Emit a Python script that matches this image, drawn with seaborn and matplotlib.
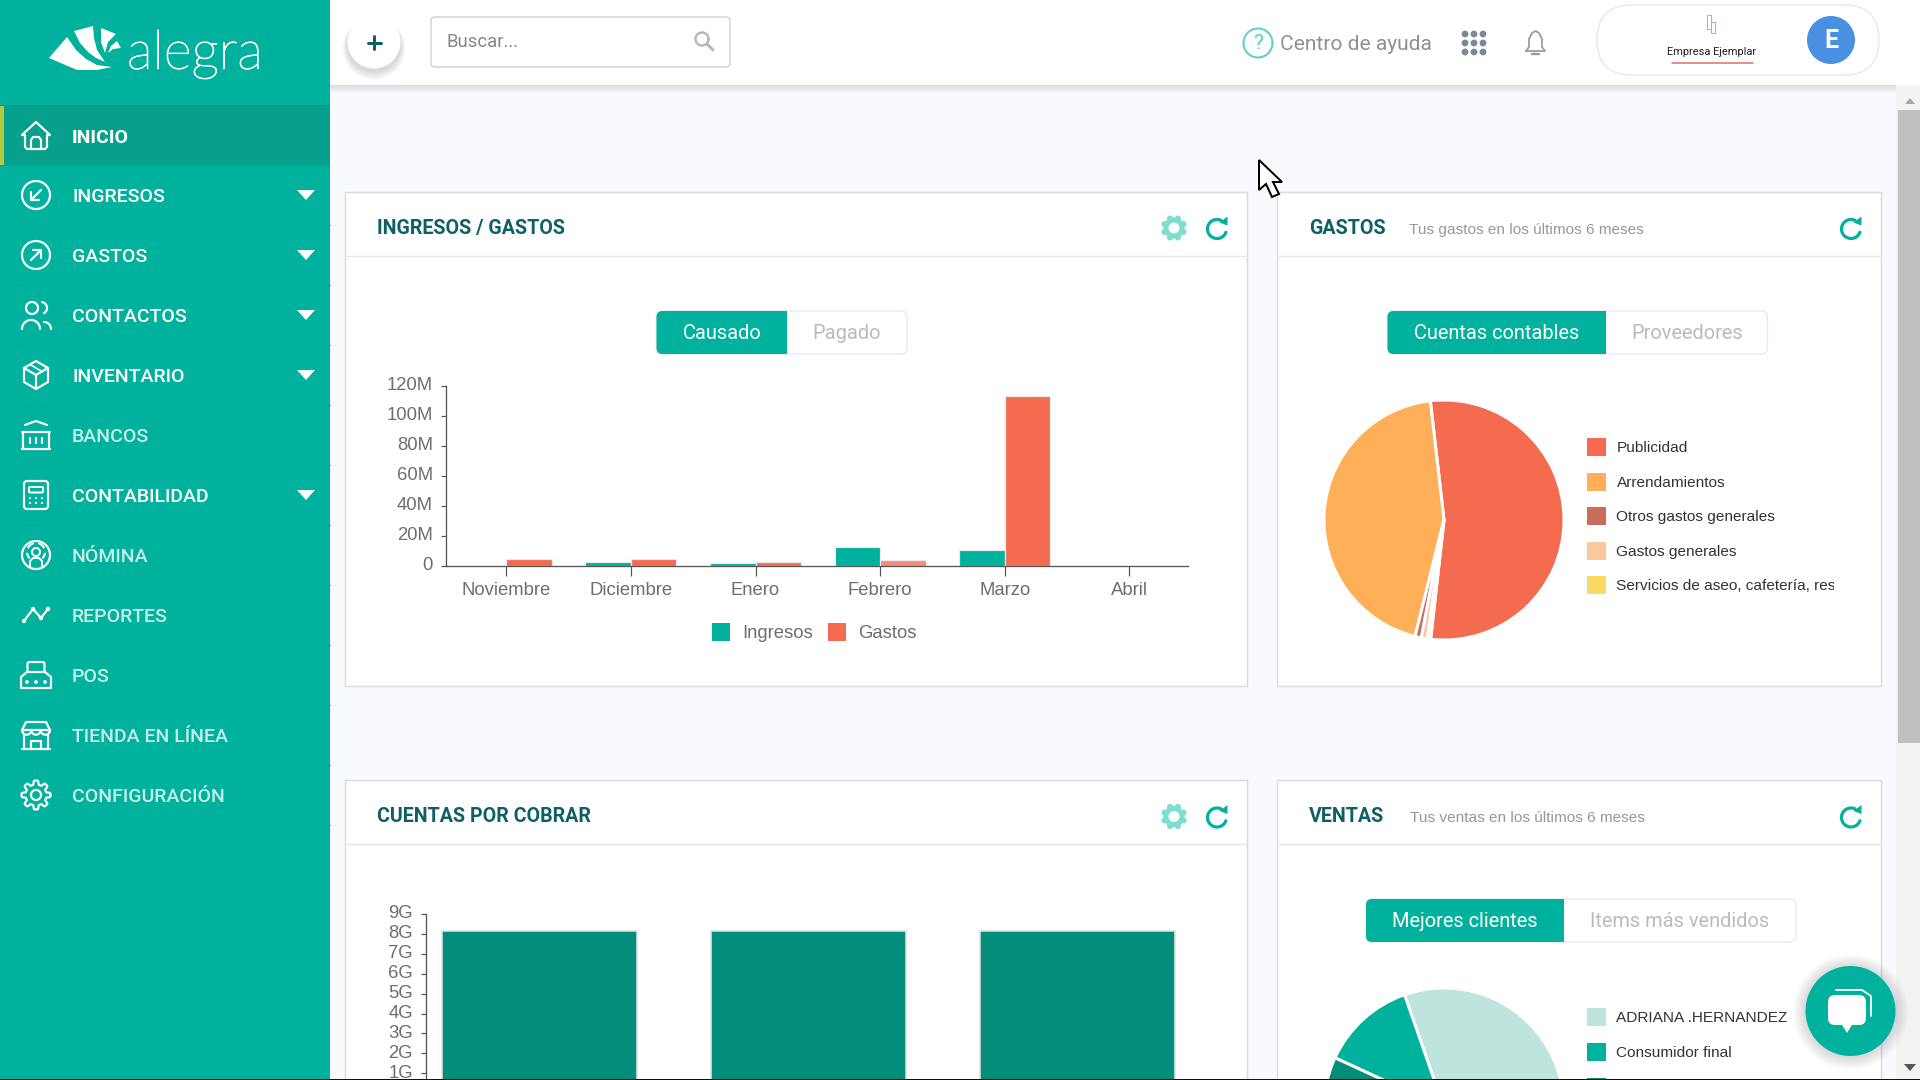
import numpy as np
import pandas as pd
import seaborn as sns
import matplotlib
matplotlib.use("Agg")
import matplotlib.pyplot as plt
import matplotlib.patheffects as pe
from matplotlib.patches import Circle, Rectangle, Polygon, FancyBboxPatch, Ellipse
from matplotlib.transforms import ScaledTranslation

# chart values
months = ["Noviembre", "Diciembre", "Enero", "Febrero", "Marzo", "Abril"]
ingresos = [0, 2.5, 1.5, 12.5, 10.5, 0]
gastos = [4.5, 4.5, 2.5, 3.8, 113.4, 0]
bar_ticks = [0, 20, 40, 60, 80, 100, 120]
bar_tick_labels = ["0", "20M", "40M", "60M", "80M", "100M", "120M"]

cobrar_groups = ["Grupo 1", "Grupo 2", "Grupo 3"]
cobrar_values = [8.15, 8.15, 8.15]
cobrar_ticks = [1, 2, 3, 4, 5, 6, 7, 8, 9]
cobrar_tick_labels = ["1G", "2G", "3G", "4G", "5G", "6G", "7G", "8G", "9G"]

gastos_names = ["Publicidad", "Arrendamientos", "Otros gastos generales", "Gastos generales",
                "Servicios de aseo, cafetería, restaurante"]
gastos_share = [53.6, 44.3, 0.85, 0.8, 0.45]
gastos_colors = ["#F46B50", "#FFAF58", "#C96C5C", "#FBC79C", "#FADA63"]

ventas_names = ["ADRIANA .HERNANDEZ", "Consumidor final"]
ventas_share = [50.0, 12.8, 37.2]
ventas_colors = ["#BDE4DD", "#00B19D", "#028E7A"]

menu_items = ["INICIO", "INGRESOS", "GASTOS", "CONTACTOS", "INVENTARIO", "BANCOS", "CONTABILIDAD",
              "NÓMINA", "REPORTES", "POS", "TIENDA EN LÍNEA", "CONFIGURACIÓN"]
menu_arrow = ["INGRESOS", "GASTOS", "CONTACTOS", "INVENTARIO", "CONTABILIDAD"]
menu_pale = ["BANCOS", "NÓMINA", "REPORTES", "POS", "TIENDA EN LÍNEA", "CONFIGURACIÓN"]

TEAL = "#00B19D"
DARK = "#028E7A"
RED = "#F46B50"
TITLE = "#0F5F66"
GREY = "#6E6E6E"

sns.set_theme(style="white")
plt.rcParams["font.family"] = ["Roboto", "DejaVu Sans"]
plt.rcParams["patch.force_edgecolor"] = False

fig = plt.figure(figsize=(19.2, 10.8), dpi=100, facecolor="#F8FAFD")


def px_axes(left, top, right, bottom, z=1):
    ax = fig.add_axes([left / 1920, 1 - bottom / 1080, (right - left) / 1920, (bottom - top) / 1080], zorder=z)
    return ax


ui = px_axes(0, 0, 1920, 1080, z=0)
top = px_axes(0, 0, 1920, 1080, z=5)
for a in (ui, top):
    a.set_xlim(0, 1920)
    a.set_ylim(1080, 0)
    a.axis("off")
    a.patch.set_alpha(0)


def pt(p):
    return p * 0.72


def txt(ax, x, y, s, size, color="#333333", ha="left", weight="normal", family="Roboto", **kw):
    return ax.text(x, y + 1.3, s, fontsize=pt(size), color=color, ha=ha, va="center", fontweight=weight,
                   family=family, **kw)


def rect(ax, x0, y0, x1, y1, color, **kw):
    ax.add_patch(Rectangle((x0, y0), x1 - x0, y1 - y0, facecolor=color, edgecolor="none", **kw))


def rbox(ax, x0, y0, x1, y1, r, fc, ec="none", lw=1.0, z=2):
    ax.add_patch(FancyBboxPatch((x0 + r, y0 + r), x1 - x0 - 2 * r, y1 - y0 - 2 * r,
                                boxstyle="round,pad=%f,rounding_size=%f" % (r, r),
                                facecolor=fc, edgecolor=ec, linewidth=pt(lw), zorder=z))


def line(ax, pts, color="white", lw=2.2, z=3):
    p = np.array(pts, dtype=float)
    ax.plot(p[:, 0], p[:, 1], color=color, lw=pt(lw), solid_capstyle="round", solid_joinstyle="round", zorder=z)


def ring(ax, cx, cy, r, a0=0, a1=360, color="white", lw=2.2, z=3):
    t = np.radians(np.linspace(a0, a1, 60))
    line(ax, np.c_[cx + r * np.cos(t), cy - r * np.sin(t)], color, lw, z)


def gear_pts(cx, cy, R):
    t = np.linspace(0, 2 * np.pi, 160)
    r = R * (0.86 + 0.14 * np.tanh(3 * np.cos(8 * t)))
    return np.c_[cx + r * np.cos(t), cy + r * np.sin(t)]


# sidebar
rect(ui, 0, 0, 330, 1080, TEAL, zorder=1)
rect(ui, 0, 105, 330, 166, "#06A08D", zorder=1)
rect(ui, 0, 106, 4, 165, "#B6C93A", zorder=2)
for k in range(11):
    line(ui, [(0, 225 + 60 * k), (330, 225 + 60 * k)], "#09A896", 1, 2)

ui.add_patch(Polygon([(49, 58), (67, 37), (76, 50), (86, 59), (97, 65), (112, 67), (97, 70), (77, 70)],
                     facecolor="white", zorder=3))
ui.add_patch(Polygon([(74, 31), (93, 26), (94, 38), (97, 50), (105, 62), (96, 58), (88, 52), (80, 43)],
                     facecolor="white", zorder=3))
ui.add_patch(Polygon([(101, 28), (116, 34), (108, 42), (105, 53), (101, 42)], facecolor="white", zorder=3))
ui.add_patch(Polygon([(117, 41), (121, 48), (113, 49), (108, 53), (111, 46)], facecolor="white", zorder=3))
logo = txt(ui, 127, 53, "alegra", 54, "white", family="Lato", weight="light", zorder=3)
logo.set_path_effects([pe.withStroke(linewidth=0.7, foreground="white")])

for i, name in enumerate(menu_items):
    cy = 136 + (0 if i == 0 else 59 + 60 * (i - 1))
    color = "#C6EEE7" if name in menu_pale else "white"
    txt(ui, 72, cy + 0.4, name, 19.5, color, weight="bold" if name == "INICIO" else "medium", zorder=3)
    if name in menu_arrow:
        ui.add_patch(Polygon([(297, cy - 5), (315, cy - 5), (306, cy + 5)], facecolor="white", zorder=3))

# sidebar icons
ICX = 36
line(ui, [(22, 135), (36, 122), (50, 135), (47, 135), (47, 147), (45, 149), (27, 149), (25, 147), (25, 135), (22, 135)])
line(ui, [(31, 149), (31, 140), (33, 137), (39, 137), (41, 140), (41, 149)])
ring(ui, ICX, 195, 14)
line(ui, [(41, 190), (32, 199)])
line(ui, [(31, 192), (31, 200), (39, 200)])
ring(ui, ICX, 255, 14)
line(ui, [(31, 260), (40, 251)])
line(ui, [(33, 250), (41, 250), (41, 258)])
ring(ui, 32, 308, 6)
ring(ui, 41, 308, 6, -60, 80)
ring(ui, 31, 329, 9, 0, 180)
ring(ui, 44, 329, 7, 0, 90)
hex_x = [36, 48, 48, 36, 24, 24, 36]
hex_y = [361, 368, 382, 389, 382, 368, 361]
line(ui, list(zip(hex_x, hex_y)))
line(ui, [(24, 368), (36, 375), (48, 368)])
line(ui, [(36, 375), (36, 389)])
line(ui, [(30, 364.5), (42, 371.5)], lw=1.6)
line(ui, [(25, 425), (36, 421), (47, 425)])
line(ui, [(22, 432), (50, 432)])
line(ui, [(23, 432), (23, 448)])
line(ui, [(49, 432), (49, 448)])
line(ui, [(22, 449), (50, 449)])
for dx in (-6, 0, 6):
    line(ui, [(ICX + dx, 438), (ICX + dx, 443)])
rbox(ui, 24, 481, 48, 509, 3, "none", "white", 2.2, 3)
rbox(ui, 29, 487, 43, 492.5, 1, "none", "white", 2, 3)
for dy in (498, 503):
    for dx in (-6, 0, 6):
        ui.add_patch(Circle((ICX + dx, dy), 1.1, facecolor="white", zorder=3))
ring(ui, ICX, 555, 14)
ring(ui, ICX, 552, 4, lw=2)
line(ui, [(30, 567), (30, 561), (33, 558), (39, 558), (42, 561), (42, 567)], lw=2)
ring(ui, 36, 552, 9, 110, 150, lw=2)
ring(ui, 36, 552, 9, 30, 70, lw=2)
ring(ui, 36, 552, 9, 190, 220, lw=2)
ring(ui, 36, 552, 9, -40, -10, lw=2)
line(ui, [(24, 621), (33, 609), (41, 618), (48, 609)])
for p in [(24, 621), (33, 609), (41, 618), (48, 609)]:
    ui.add_patch(Circle(p, 2.2, facecolor="white", zorder=3))
rbox(ui, 27.5, 662, 44.5, 675, 2, "none", "white", 2.2, 3)
ui.add_patch(Polygon([(21, 688), (21, 677), (27, 672), (45, 672), (51, 677), (51, 688)], closed=True,
                     facecolor=TEAL, edgecolor="white", linewidth=pt(2.2), joinstyle="round", zorder=4))
for dx in (-9, 0, 9):
    ui.add_patch(Circle((ICX + dx, 682), 1.9, facecolor="white", zorder=5))
line(ui, [(26, 722), (46, 722), (50, 730), (22, 730), (26, 722)])
ring(ui, 26.7, 730, 4.7, 180, 360)
ring(ui, 36, 730, 4.7, 180, 360)
ring(ui, 45.3, 730, 4.7, 180, 360)
line(ui, [(24, 735), (24, 749)])
line(ui, [(48, 735), (48, 749)])
line(ui, [(22, 749), (50, 749)])
line(ui, [(31, 749), (31, 741), (41, 741), (41, 749)])
line(ui, gear_pts(ICX, 795, 14.5))
ring(ui, ICX, 795, 5)

# header
for k in range(8):
    rect(ui, 330, 85, 1920, 85 + k + 1, "#8C96A0", alpha=0.035, zorder=1)
rect(ui, 330, 0, 1920, 85, "white", zorder=2)
for k in range(7):
    ui.add_patch(Ellipse((374, 45 + k * 0.6), 2 * (27 + k * 0.7), 2 * (27 + k * 0.7), facecolor="#5A6470",
                         alpha=0.035, zorder=3))
ui.add_patch(Circle((374, 42), 26.5, facecolor="white", zorder=4))
line(ui, [(374, 36), (374, 49)], TITLE, 3, 5)
line(ui, [(367.5, 42.5), (380.5, 42.5)], TITLE, 3, 5)

rbox(ui, 431, 17, 730, 67, 4, "white", "#CFCFCF", 1.3, 3)
txt(ui, 446, 41, "Buscar...", 18.5, "#85878C", zorder=4)
ring(ui, 702, 39, 6.5, color="#B5B7BA", lw=2.4, z=4)
line(ui, [(707, 44), (713, 50)], "#B5B7BA", 3, 4)

ring(ui, 1258, 43, 14.5, color="#5FD0C3", lw=2, z=4)
txt(ui, 1258, 42, "?", 21, "#5FD0C3", ha="center", zorder=4)
txt(ui, 1280, 43, "Centro de ayuda", 21, "#8C9098", zorder=4)
for dx in (-9, 0, 9):
    for dy in (-9, 0, 9):
        ui.add_patch(Circle((1474 + dx, 43 + dy), 3.4, facecolor="#7C8896", zorder=4))
line(ui, [(1526, 51), (1529, 47), (1529, 39), (1532, 33), (1535.5, 31), (1539, 33), (1542, 39), (1542, 47), (1545, 51),
          (1526, 51)], "#9A9DA2", 1.8, 4)
line(ui, [(1532, 54), (1539, 54)], "#9A9DA2", 2.4, 4)
rbox(ui, 1597, 5, 1879, 75, 35, "white", "#E6E6E6", 1.2, 3)
line(ui, [(1707, 15), (1707, 29), (1711, 29), (1711, 15), (1707, 15)], "#E39A8F", 1, 4)
line(ui, [(1711, 22), (1715, 22), (1715, 33), (1711, 33), (1711, 29)], "#E39A8F", 1, 4)
txt(ui, 1712, 51, "Empresa Ejemplar", 11, "#222222", ha="center", zorder=4)
line(ui, [(1672, 63), (1753, 63)], "#D9705F", 1.5, 4)
ui.add_patch(Circle((1831, 40), 24, facecolor="#4A90E2", zorder=4))
txt(ui, 1831, 40, "E", 25, "white", ha="center", weight="bold", zorder=5)

# card frames
cards = [(344.5, 191.5, 1247, 256, 686), (1277, 191.5, 1881, 256, 686),
         (344.5, 779.5, 1247, 844, 1100), (1277, 779.5, 1881, 844, 1100)]
for x0, y0, x1, yh, y1 in cards:
    ui.add_patch(Rectangle((x0, y0), x1 - x0, y1 - y0, facecolor="white", edgecolor="#D7DADF", linewidth=pt(1.4), zorder=2))
    line(ui, [(x0, yh), (x1, yh)], "#E4E6E9", 1.4, 3)

txt(ui, 377, 227, "INGRESOS / GASTOS", 19.7, TITLE, weight="bold", zorder=4)
txt(ui, 377, 815.5, "CUENTAS POR COBRAR", 19.7, TITLE, weight="bold", zorder=4)
txt(ui, 1309, 227, "GASTOS", 19.7, TITLE, weight="bold", zorder=4)
txt(ui, 1309, 815.5, "VENTAS", 19.7, TITLE, weight="bold", zorder=4)
txt(ui, 1409, 229, "Tus gastos en los últimos 6 meses", 15.4, "#95989E", family="Liberation Sans", zorder=4)
txt(ui, 1410, 817, "Tus ventas en los últimos 6 meses", 15.4, "#95989E", family="Liberation Sans", zorder=4)

for gy in (228, 816.5):
    ui.add_patch(Circle((1174, gy), 10.5, facecolor="#7FDDD0", zorder=4))
    for a in np.radians(np.arange(0, 360, 45) + 22.5):
        ui.add_patch(Circle((1174 + 10.2 * np.cos(a), gy + 10.2 * np.sin(a)), 3.1, facecolor="#7FDDD0", zorder=4))
    ui.add_patch(Circle((1174, gy), 5.5, facecolor="white", zorder=5))
for rx, ry in [(1217, 229), (1217, 817.5), (1851, 229), (1851, 817.5)]:
    ring(ui, rx, ry, 9.5, 65, 340, TEAL, 3.2, 4)
    ui.add_patch(Polygon([(rx + 2.5, ry - 6.5), (rx + 10.5, ry - 12.5), (rx + 10.5, ry - 3.5)], facecolor=TEAL, zorder=4))


def toggle(x0, xm, x1, y0, y1, left, right):
    rbox(ui, x0, y0, x1, y1, 6, "white", "#E6E8EA", 1.3, 4)
    rbox(ui, x0, y0, xm, y1, 6, TEAL, "none", 1, 5)
    rect(ui, xm - 8, y0, xm, y1, TEAL, zorder=5)
    txt(ui, (x0 + xm) / 2, (y0 + y1) / 2, left, 20, "white", ha="center", zorder=6)
    txt(ui, (xm + x1) / 2, (y0 + y1) / 2, right, 20, "#B8BBBF", ha="center", zorder=6)


toggle(656.5, 787, 907, 311, 354, "Causado", "Pagado")
toggle(1387.5, 1606, 1767.5, 311, 354, "Cuentas contables", "Proveedores")
toggle(1366, 1564, 1796, 899, 942, "Mejores clientes", "Items más vendidos")

# ingresos / gastos bars
bars = pd.DataFrame({"mes": months * 2, "valor": ingresos + gastos,
                     "serie": ["Ingresos"] * len(months) + ["Gastos"] * len(months)})
ax1 = px_axes(446.4, 386, 1188, 565.7, z=2)
sns.barplot(data=bars, x="mes", y="valor", hue="serie", hue_order=["Ingresos", "Gastos"], order=months,
            palette=[TEAL, RED], width=0.73, gap=0, saturation=1, legend=False, ax=ax1,
            edgecolor="#EBEBEB", linewidth=pt(1.2))
ax1.patches[6 + 3].set_facecolor("#F58C78")
ax1.set_xlim(-0.48, 5.47)
ax1.set_ylim(0, 120)
ax1.set_yticks(bar_ticks)
ax1.set_yticklabels(bar_tick_labels)
ax1.set_xlabel("")
ax1.set_ylabel("")

ax2 = px_axes(426.3, 914, 1190, 1093.2, z=2)
sns.barplot(x=cobrar_groups, y=cobrar_values, color=DARK, width=0.725, saturation=1, ax=ax2,
            edgecolor="#E2E2E2", linewidth=pt(1.6))
ax2.set_xlim(-0.42, 2.42)
ax2.set_ylim(0, 9)
ax2.set_yticks(cobrar_ticks)
ax2.set_yticklabels(cobrar_tick_labels)
ax2.set_xticks([])
ax2.set_xlabel("")
ax2.set_ylabel("")

for ax, xlen in ((ax1, 10), (ax2, 0)):
    ax.patch.set_alpha(0)
    sns.despine(ax=ax)
    for s in ("left", "bottom"):
        ax.spines[s].set_color("#555555")
        ax.spines[s].set_linewidth(pt(1.3))
    ax.spines["bottom"].set_zorder(6)
    ax.tick_params(axis="y", length=pt(5.5), width=pt(1.2), color="#555555", labelcolor=GREY, labelsize=pt(18.5),
                   pad=pt(8), left=True)
    ax.tick_params(axis="x", length=pt(xlen), width=pt(1.2), color="#555555", labelcolor=GREY, labelsize=pt(18.5),
                   pad=pt(6), bottom=xlen > 0)
    for t in ax.get_xticklabels() + ax.get_yticklabels():
        t.set_family("Liberation Sans")

rect(ui, 712, 623, 730, 641, TEAL, zorder=4)
txt(ui, 742.5, 632, "Ingresos", 18.5, GREY, family="Liberation Sans", zorder=4)
rect(ui, 828, 623, 846, 641, RED, zorder=4)
txt(ui, 858, 632, "Gastos", 18.5, GREY, family="Liberation Sans", zorder=4)


# pies
def pie_at(cx, cy, r, values, colors, start):
    ax = px_axes(cx - r, cy - r, cx + r, cy + r, z=2)
    ax.pie(values, colors=colors, startangle=start, counterclock=True, radius=1,
           wedgeprops={"edgecolor": "white", "linewidth": pt(3)})
    ax.set_xlim(-1, 1)
    ax.set_ylim(-1, 1)
    ax.patch.set_alpha(0)


pie_at(1444, 520, 120, gastos_share, gastos_colors, -96.4)
pie_at(1444, 1108, 120, ventas_share, ventas_colors, -70.8)

clip_box = Rectangle((1600, 430), 234, 175, transform=ui.transData)
for i, (name, col) in enumerate(zip(gastos_names, gastos_colors)):
    cy = 447 + 34.5 * i
    rect(ui, 1587, cy - 9, 1605.5, cy + 9, col, zorder=4)
    t = txt(ui, 1616.5, cy, name, 15.4, "#333333", family="Liberation Sans", zorder=4)
    t.set_clip_path(clip_box)
    t.set_clip_on(True)

for i, name in enumerate(ventas_names):
    cy = 1016.5 + 35 * i
    rect(ui, 1587, cy - 9, 1605.5, cy + 9, ventas_colors[i], zorder=4)
    txt(ui, 1616.5, cy, name, 15.4, "#333333", family="Liberation Sans", zorder=4)
rect(ui, 1587, 1078, 1605.5, 1090, ventas_colors[2], zorder=4)

# scrollbar, chat button, cursor, bottom edge of the capture
rect(top, 1896, 85, 1920, 1080, "#F3F3F3", zorder=1)
rect(top, 1897.5, 110, 1920, 743, "#BFBFBF", zorder=2)
top.add_patch(Polygon([(1905, 104), (1915, 104), (1910, 98)], facecolor="#A8A8A8", zorder=2))
top.add_patch(Polygon([(1904, 1064), (1916, 1064), (1910, 1071)], facecolor="#555555", zorder=2))

for k in range(10):
    top.add_patch(Circle((1850.5, 1012), 45 + k * 1.4, facecolor="#3C4650", alpha=0.018, zorder=3))
top.add_patch(Circle((1850.5, 1011), 45, facecolor=TEAL, zorder=4))
rbox(top, 1828, 995, 1866, 1025, 7, "white", "none", 1, 5)
top.add_patch(Polygon([(1842, 1025), (1852, 1025), (1847, 1033)], facecolor="white", zorder=5))
line(top, [(1836, 990), (1862, 990), (1871, 996), (1871, 1016)], "white", 1.8, 5)

top.add_patch(Polygon([(1259, 160), (1259, 190), (1266, 184), (1272, 197), (1279, 194), (1273, 182), (1282, 182)],
                      facecolor="white", edgecolor="black", linewidth=pt(2), zorder=6))
rect(top, 0, 1079, 1920, 1080, "#111111", zorder=7)

# nudge y tick labels up a little, as in the screenshot
lift = ScaledTranslation(0, 2.2 / 100, fig.dpi_scale_trans)
for ax in (ax1, ax2):
    for t in ax.get_yticklabels():
        t.set_transform(t.get_transform() + lift)

fig.savefig("out.png", dpi=100, facecolor=fig.get_facecolor())
